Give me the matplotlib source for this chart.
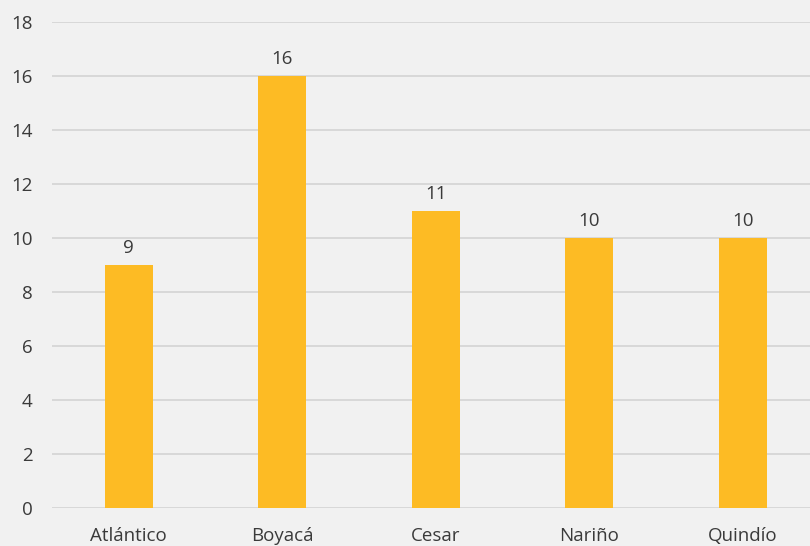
import matplotlib.pyplot as plt
import numpy as np

plt.rcParams['font.family'] = ['Open Sans', 'DejaVu Sans']

departamentos = ['Atlántico', 'Boyacá', 'Cesar', 'Nariño', 'Quindío']
valores = [9, 16, 11, 10, 10]
yticks = [0, 2, 4, 6, 8, 10, 12, 14, 16, 18]

fig = plt.figure(figsize=(8.1, 5.46), dpi=100, facecolor='#f1f1f1')
ax = fig.add_axes([52 / 810, 38 / 546, 758 / 810, 486 / 546])
ax.set_facecolor('none')

x = np.arange(len(departamentos))
bars = ax.bar(x, valores, width=0.31, color='#FDBB24', zorder=3)

# etiquetas encima de cada barra
for b, v in zip(bars, valores):
    ax.text(b.get_x() + b.get_width() / 2, v + 0.3, str(v),
            ha='center', va='bottom', fontsize=13.5, color='#3a3a3a')

ax.set_ylim(0, 18)
ax.set_xlim(-0.5, -0.5 + 758 / 153.5)
ax.set_yticks(yticks)
ax.set_xticks(x)
ax.set_xticklabels(departamentos)
ax.grid(axis='y', color='#d4d4d4', linewidth=1.2, zorder=0)
for s in ax.spines.values():
    s.set_visible(False)
ax.tick_params(axis='both', length=0, labelsize=13.5, colors='#3a3a3a')
ax.tick_params(axis='y', pad=14)
ax.tick_params(axis='x', pad=14)

plt.savefig('out.png', dpi=100, facecolor=fig.get_facecolor())
